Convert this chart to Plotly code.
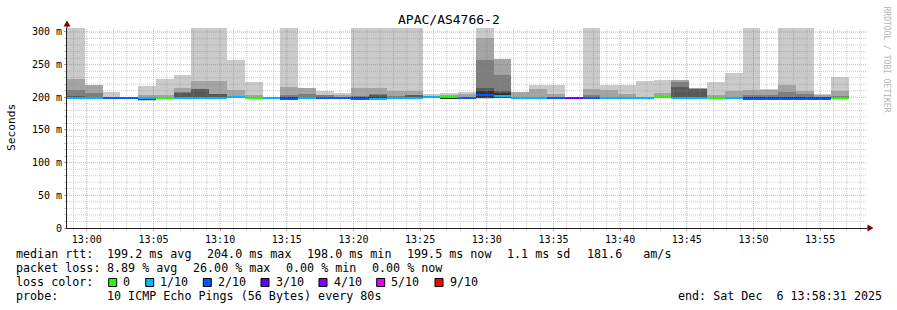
import plotly.graph_objects as go
import pandas as pd

# ---------------- DATA ----------------
window_start = "2025-12-06 12:58:31"
window_end = "2025-12-06 13:58:31"
step_seconds = 80

# smoke layers (top of each band, ms); None = no data
ping_max = [330, 219.4, 208.1, 201, 217.3, 228.6, 234.7, 330, 330, 257.6,
            223.5, 201, 330, 214.3, 209.2, 207.1, 330, 330, 330, 330,
            205, 207.1, 208.1, 330, 259.2, 208.7, 218.4, 218.4, 199.5, 330,
            219.4, 219.4, 225.5, 226.5, 226.5, 214.3, 223.5, 237.7, 330, 213.2,
            330, 330, 205.1, 231.1, None]
ping_p9 = [228.6, 219.4, 200.5, 199.5, 203, 204.1, 214.8, 225, 225, 211.2,
           203, 199.5, 215.8, 214.3, 204.1, 204, 214.3, 214.3, 210.2, 210.2,
           201.5, 203, 205, 290.8, 259.2, 208.7, 212.7, 205.1, 199.5, 213.2,
           211.7, 205.1, 201, 207.1, 226.5, 214.3, 204.1, 210.2, 211.7, 211,
           219.4, 210.2, 203.5, 210.2, None]
ping_p8 = [211.2, 207, 199.5, 199.5, 200, 200.5, 207.5, 213, 205.5, 202.5,
           199.5, 199.5, 203, 205.1, 203, 199.5, 202, 205, 202, 204,
           201, 201.5, 200, 257.6, 234.7, 199.5, 199.5, 199.5, 199.5, 203,
           199.5, 199.5, 199.5, 201.5, 223, 212.5, 199.5, 199.5, 203, 203,
           208.1, 205, 199, 202, None]
ping_p7 = [201.5, 199.5, 199.5, 199.5, 200, 200.5, 207, 212.5, 205, 202.5,
           199.5, 199.5, 199, 199.5, 199.5, 199.5, 199, 204, 199.5, 203,
           201, 201.5, 200, 214.3, 210.2, 199.5, 199.5, 199.5, 199.5, 199.5,
           199.5, 199.5, 199.5, 201.5, 216, 212, 199.5, 199.5, 199, 199,
           199, 199, 199, 200.5, None]
ping_p6 = [199.5, 199.5, 199.5, 199.5, 200, 200.5, 199.5, 199.5, 199.5, 202,
           199.5, 199.5, 199, 199.5, 199.5, 199.5, 199, 199.5, 199.5, 199.5,
           201, 201.5, 200, 210.2, 206, 199.5, 199.5, 199.5, 199.5, 199.5,
           199.5, 199.5, 199.5, 201.5, 199.5, 199.5, 199.5, 199.5, 199, 199,
           199, 199, 199, 200.5, None]
ping_lo1 = [197.5, 197.5, 197.5, 197.5, 194.5, 197.5, 197.5, 197.5, 197.5, 198.5,
            197.5, 197.5, 197.5, 197.5, 197.5, 197.5, 197.5, 197.5, 197.5, 197.5,
            198.5, 197.3, 197.5, 197.5, 198.5, 197.5, 197.5, 197.5, 197.5, 197.5,
            197.5, 197.5, 197.5, 198.5, 197.5, 197.5, 197.5, 197.5, 197.5, 197.5,
            197.5, 197.5, 197.5, 198, None]
ping_lo2 = [198, 198, 198, 198, 196.5, 198, 198, 198, 198, 199,
            198, 198, 198, 198, 198, 198, 198, 198, 198, 198,
            199, 197.3, 198, 199.5, 199.5, 198, 198, 198, 198, 198,
            198, 198, 198, 199, 198, 198, 198, 198, 198, 198,
            198, 198, 198, 198.5, None]
median_rtt = [198.4, 198.4, 198.4, 198.6, 199.2, 199.2, 198.4, 198.4, 198.4, 201.0,
              198.6, 198.4, 198.0, 198.4, 198.6, 198.4, 198.0, 198.0, 198.4, 198.4,
              200.0, 200.5, 199.0, 204.0, 202.5, 198.4, 198.4, 198.4, 198.4, 198.4,
              198.6, 198.6, 198.6, 200.0, 199.0, 198.6, 198.4, 198.4, 198.0, 198.0,
              198.0, 198.0, 198.0, 199.5, None]
loss_tenths = [1, 1, 2, 2, 1, 0, 1, 1, 1, 1,
               0, 1, 2, 1, 2, 2, 2, 1, 1, 1,
               1, 0, 2, 2, 1, 1, 1, 2, 3, 2,
               1, 1, 1, 0, 1, 1, 0, 1, 2, 2,
               2, 2, 2, 0, None]

loss_labels = ["0", "1/10", "2/10", "3/10", "4/10", "5/10", "9/10"]
loss_colors = ["#26ff00", "#00b8ff", "#0059ff", "#5e00ff", "#7e00ff", "#dd00ff", "#ff0000"]
loss_color_by_tenths = {0: "#26ff00", 1: "#00b8ff", 2: "#0059ff", 3: "#5e00ff",
                        4: "#7e00ff", 5: "#dd00ff", 9: "#ff0000"}

y_tick_vals = [0, 50, 100, 150, 200, 250, 300]
y_tick_text = ["0", "50 m", "100 m", "150 m", "200 m", "250 m", "300 m"]
x_tick_text = ["13:00", "13:05", "13:10", "13:15", "13:20", "13:25",
               "13:30", "13:35", "13:40", "13:45", "13:50", "13:55"]

legend_line1 = [("median rtt:", 16), ("199.2 ms avg", 107.3), ("204.0 ms max", 207.3),
                ("198.0 ms min", 307.3), ("199.5 ms now", 407.3), ("1.1 ms sd", 507.3),
                ("181.6   am/s", 586.7)]
legend_line2 = [("packet loss:", 16), ("8.89 % avg", 107.3), ("26.00 % max", 193.3),
                ("0.00 % min", 286.3), ("0.00 % now", 372.3)]
swatch_x = [108.7, 145.7, 203.3, 261.0, 319.0, 376.7, 435.0]
probe_text = "10 ICMP Echo Pings (56 Bytes) every 80s"
end_text = "end: Sat Dec  6 13:58:31 2025"
title_text = "APAC/AS4766-2"

# ---------------- GEOMETRY HELPERS ----------------
W, H = 897, 310
PL, PR, PT, PB = 67, 867, 28, 228
Y_MAX = 306.1
SW = Y_MAX / 200.0  # one pixel in value units

def px(x):
    return (x - PL) / (PR - PL)

def py(y):
    return (PB - y) / (PB - PT)

t0 = pd.Timestamp(window_start)
centers = [t0 + pd.Timedelta(seconds=step_seconds * i + step_seconds / 2) for i in range(len(ping_max))]
bar_w = step_seconds * 1000

def band(tops, bases):
    b, h = [], []
    for tp, bs in zip(tops, bases):
        if tp is None or bs is None:
            b.append(None); h.append(None)
        else:
            b.append(bs); h.append(max(tp - bs, 0))
    return b, h

fig = go.Figure()
layers = [(ping_max, ping_lo1, "#cacaca"), (ping_p9, ping_lo2, "#a4a4a4"),
          (ping_p8, ping_lo2, "#7e7e7e"), (ping_p7, ping_lo2, "#585858"),
          (ping_p6, ping_lo2, "#323232")]
for tops, bases, col in layers:
    b, h = band(tops, bases)
    fig.add_trace(go.Bar(x=centers, y=h, base=b, width=bar_w, marker=dict(color=col, line=dict(width=0)),
                         showlegend=False, hoverinfo="skip"))

mb, mh, mc = [], [], []
for m, l in zip(median_rtt, loss_tenths):
    if m is None:
        mb.append(None); mh.append(None); mc.append("#ffffff")
    else:
        mb.append(m - SW); mh.append(2 * SW); mc.append(loss_color_by_tenths[l])
fig.add_trace(go.Bar(x=centers, y=mh, base=mb, width=bar_w, marker=dict(color=mc, line=dict(width=0)),
                     showlegend=False, hoverinfo="skip"))

# ---------------- GRID (drawn above data like rrdtool) ----------------
shapes = []
GRID = "rgba(143,143,143,0.45)"
MGRID = "rgba(222,79,79,0.5)"
DASH = "1px,1px"
minute = pd.Timestamp("2025-12-06 12:59:00")
while minute <= pd.Timestamp(window_end):
    major = minute.minute % 5 == 0
    shapes.append(dict(type="line", xref="x", yref="paper", x0=minute, x1=minute, y0=0, y1=1,
                       line=dict(color=MGRID if major else GRID, width=1, dash=DASH), layer="above"))
    minute += pd.Timedelta(minutes=1)
for v in range(10, 310, 10):
    if v > Y_MAX:
        break
    major = v % 50 == 0
    shapes.append(dict(type="line", xref="paper", yref="y", x0=0, x1=1, y0=v, y1=v,
                       line=dict(color=MGRID if major else GRID, width=1, dash=DASH), layer="above"))

AXC = "#222222"
ARROW = "#800000"
# axis extensions and arrows
shapes.append(dict(type="line", xref="paper", yref="paper", x0=1, x1=px(870), y0=0, y1=0,
                   line=dict(color=AXC, width=1), layer="above"))
shapes.append(dict(type="line", xref="paper", yref="paper", x0=0, x1=0, y0=1, y1=py(24),
                   line=dict(color=AXC, width=1), layer="above"))
shapes.append(dict(type="path", xref="paper", yref="paper",
                   path=f"M {px(867.5)},{py(224.5)} L {px(873.5)},{py(228)} L {px(867.5)},{py(231.5)} Z",
                   fillcolor=ARROW, line=dict(width=0), layer="above"))
shapes.append(dict(type="path", xref="paper", yref="paper",
                   path=f"M {px(63.5)},{py(26.5)} L {px(67)},{py(20.5)} L {px(70.5)},{py(26.5)} Z",
                   fillcolor=ARROW, line=dict(width=0), layer="above"))

# legend swatches
for sx, col in zip(swatch_x, loss_colors):
    shapes.append(dict(type="rect", xref="paper", yref="paper", x0=px(sx), x1=px(sx + 8),
                       y0=py(286.5), y1=py(278.5), fillcolor=col, line=dict(color="#000000", width=1)))

# ---------------- TEXT ----------------
MONO = "DejaVu Sans Mono"
def nb(s):
    return s.replace(" ", "\u00a0")

ann = []
def text(s, x, y, size=11.7, anchor="left", color="#000000", angle=0):
    ann.append(dict(text=nb(s), x=px(x), y=py(y), xref="paper", yref="paper", showarrow=False,
                    xanchor=anchor, yanchor="middle", borderpad=0, borderwidth=0, textangle=angle,
                    font=dict(family=MONO, size=size, color=color)))

for s, x in legend_line1:
    text(s, x, 254.3)
for s, x in legend_line2:
    text(s, x, 268.3)
text("loss color:", 16, 282.3)
for sx, lab in zip(swatch_x, loss_labels):
    text(lab, sx + 14.6, 282.3)
text("probe:", 16, 296.3)
text(probe_text, 107.3, 296.3)
text(end_text, 678.3, 296.3)
text(title_text, 448.5, 19.5, size=13, anchor="center")
text("Seconds", 11, 127, size=11.2, anchor="center", angle=-90)
text("RRDTOOL / TOBI OETIKER", 886.5, 59, size=8, anchor="center", color="#b4b4b4", angle=90)

tick_times = [pd.Timestamp(f"2025-12-06 {t}:00") for t in x_tick_text]

fig.update_layout(
    width=W, height=H, margin=dict(l=PL, r=W - PR, t=PT, b=H - PB),
    paper_bgcolor="#ffffff", plot_bgcolor="#ffffff", barmode="overlay", bargap=0,
    showlegend=False, shapes=shapes, annotations=ann,
    xaxis=dict(type="date", range=[window_start, window_end], tickmode="array", tickvals=tick_times,
               ticktext=x_tick_text, showgrid=False, zeroline=False, showline=True, linecolor=AXC,
               linewidth=1, ticks="outside", ticklen=2, tickcolor=MGRID, tickwidth=1,
               tickfont=dict(family=MONO, size=10, color="#000000"),
               minor=dict(tickmode="linear", tick0="2025-12-06 13:00:00", dtick=60000, ticks="outside",
                          ticklen=2, tickcolor=GRID, showgrid=False)),
    yaxis=dict(range=[0, Y_MAX], tickmode="array", tickvals=y_tick_vals, ticktext=y_tick_text,
               showgrid=False, zeroline=False, showline=True, linecolor=AXC, linewidth=1,
               ticks="outside", ticklen=2, tickcolor=MGRID, tickwidth=1,
               tickfont=dict(family=MONO, size=10, color="#000000"),
               minor=dict(tickmode="linear", tick0=0, dtick=10, ticks="outside", ticklen=2,
                          tickcolor=GRID, showgrid=False)),
)

fig.write_html("out.html")
